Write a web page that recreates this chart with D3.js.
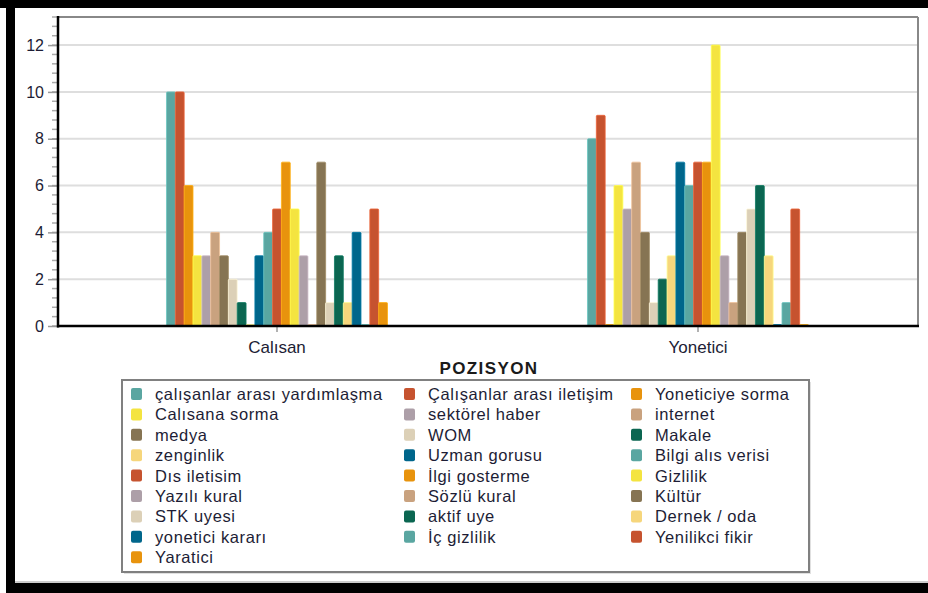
<!DOCTYPE html>
<html>
<head>
<meta charset="utf-8">
<script src="https://cdn.jsdelivr.net/npm/d3@7"></script>
<style>
  html, body { margin: 0; padding: 0; background: #fff; }
  svg { display: block; }
  text { font-family: "Liberation Sans", Arial, sans-serif; }
</style>
</head>
<body>
<svg id="chart" width="928" height="593"></svg>
<script>
// Categories on the x axis
const categories = ["Calısan", "Yonetici"];

// Series names (legend order)
const seriesNames = [
  "çalışanlar arası yardımlaşma", "Çalışanlar arası iletişim", "Yoneticiye sorma",
  "Calısana sorma", "sektörel haber", "internet",
  "medya", "WOM", "Makale",
  "zenginlik", "Uzman gorusu", "Bilgi alıs verisi",
  "Dıs iletisim", "İlgi gosterme", "Gizlilik",
  "Yazılı kural", "Sözlü kural", "Kültür",
  "STK uyesi", "aktif uye", "Dernek / oda",
  "yonetici kararı", "İç gizlilik", "Yenilikci fikir",
  "Yaratici"
];

// Counts per series, one array per category
const valuesCalisan  = [10, 10, 6, 3, 3, 4, 3, 2, 1, 0, 3, 4, 5, 7, 5, 3, 0, 7, 1, 3, 1, 4, 0, 5, 1];
const valuesYonetici = [8, 9, 0, 6, 5, 7, 4, 1, 2, 3, 7, 6, 7, 7, 12, 3, 1, 4, 5, 6, 3, 0, 1, 5, 0];

// Repeating palette of 11 colours
const palette = ["#5aa6a1", "#c6532f", "#e8930d", "#f4e440", "#ad9fa8", "#c9a27f",
                 "#867453", "#dcd0b7", "#0b6651", "#f6d67c", "#00668b"];

const yTicks = [0, 2, 4, 6, 8, 10, 12];
const axisTitle = "POZISYON";

const svg = d3.select("#chart");
const valuesByCat = { "Calısan": valuesCalisan, "Yonetici": valuesYonetici };
const color = (i) => palette[i % palette.length];

// Outer frame bands
svg.append("rect").attr("x", 0).attr("y", 0).attr("width", 928).attr("height", 8).attr("fill", "#000");
svg.append("rect").attr("x", 6).attr("y", 0).attr("width", 9).attr("height", 593).attr("fill", "#000");
svg.append("rect").attr("x", 6).attr("y", 583).attr("width", 922).attr("height", 10).attr("fill", "#000");
svg.append("line").attr("x1", 15).attr("x2", 928).attr("y1", 582).attr("y2", 582)
  .attr("stroke", "#999").attr("stroke-width", 1);

const plot = { left: 58, right: 918, top: 17, bottom: 326 };

const y = d3.scaleLinear().domain([0, 13.2]).range([plot.bottom, plot.top]);
const x0 = d3.scaleBand().domain(categories).range([66.5, 908.5]);
const groupW = x0.bandwidth() * 0.525;
const x1 = d3.scaleBand().domain(d3.range(seriesNames.length))
  .range([(x0.bandwidth() - groupW) / 2, (x0.bandwidth() + groupW) / 2]);

// Gridlines
svg.append("g").selectAll("line").data(yTicks.filter(t => t > 0)).join("line")
  .attr("x1", plot.left).attr("x2", plot.right)
  .attr("y1", d => y(d)).attr("y2", d => y(d))
  .attr("stroke", "#dedede").attr("stroke-width", 2);

// Minor ticks on the y axis
const minor = d3.range(0, 13.21, 0.4).map(v => +v.toFixed(1));
svg.append("g").selectAll("line").data(minor).join("line")
  .attr("x1", plot.left - 6).attr("x2", plot.left)
  .attr("y1", d => y(d)).attr("y2", d => y(d))
  .attr("stroke", "#aaa").attr("stroke-width", 1.5);

// Y axis with major ticks
const yAxis = d3.axisLeft(y).tickValues(yTicks).tickSize(10).tickPadding(4).tickFormat(d3.format("d"));
const gy = svg.append("g").attr("transform", `translate(${plot.left},0)`).call(yAxis);
gy.select(".domain").remove();
gy.selectAll(".tick line").attr("stroke", "#999").attr("stroke-width", 1.5);
gy.selectAll(".tick text").attr("font-size", 16).attr("fill", "#1d1d35")
  .attr("font-family", "'Liberation Sans', Arial, sans-serif");

// Bars
const groups = svg.append("g").selectAll("g").data(categories).join("g")
  .attr("transform", d => `translate(${x0(d)},0)`);
groups.selectAll("rect")
  .data(c => valuesByCat[c].map((v, i) => ({ v, i })))
  .join("rect")
  .attr("x", d => x1(d.i))
  .attr("width", x1.bandwidth())
  .attr("y", d => Math.min(y(d.v), plot.bottom - 1.5))
  .attr("height", d => Math.max(plot.bottom - y(d.v), 1.5))
  .attr("rx", 1)
  .attr("fill", d => color(d.i))
  .attr("stroke", d => d3.color(color(d.i)).brighter(0.5))
  .attr("stroke-width", 0.8);

// Plot frame: grey top/right, black left/bottom
svg.append("line").attr("x1", plot.left).attr("x2", plot.right).attr("y1", plot.top).attr("y2", plot.top)
  .attr("stroke", "#888").attr("stroke-width", 2);
svg.append("line").attr("x1", plot.right).attr("x2", plot.right).attr("y1", plot.top).attr("y2", plot.bottom)
  .attr("stroke", "#888").attr("stroke-width", 2);
svg.append("line").attr("x1", plot.left).attr("x2", plot.left).attr("y1", plot.top - 1).attr("y2", plot.bottom + 1.5)
  .attr("stroke", "#000").attr("stroke-width", 2.5);

// X axis
const xAxis = d3.axisBottom(x0).tickSize(6).tickPadding(9);
const gx = svg.append("g").attr("transform", `translate(0,${plot.bottom})`).call(xAxis);
gx.select(".domain").remove();
gx.selectAll(".tick line").attr("stroke", "#999").attr("stroke-width", 1.5);
gx.selectAll(".tick text").attr("font-size", 17).attr("fill", "#1d1d35")
  .attr("font-family", "'Liberation Sans', Arial, sans-serif");
svg.append("line").attr("x1", plot.left - 1).attr("x2", plot.right + 1).attr("y1", plot.bottom).attr("y2", plot.bottom)
  .attr("stroke", "#000").attr("stroke-width", 2.5);

// Axis title
svg.append("text").attr("x", 489).attr("y", 374).attr("text-anchor", "middle")
  .attr("font-size", 17).attr("font-weight", "bold").attr("letter-spacing", 1.4)
  .attr("fill", "#1a1a1a").text(axisTitle);

// Legend
const legend = { x: 122, y: 380, w: 687, h: 192 };
svg.append("rect").attr("x", legend.x + 2).attr("y", legend.y + 2).attr("width", legend.w).attr("height", legend.h)
  .attr("fill", "#ccc").attr("opacity", 0.6);
svg.append("rect").attr("x", legend.x).attr("y", legend.y).attr("width", legend.w).attr("height", legend.h)
  .attr("fill", "#fff").attr("stroke", "#808080").attr("stroke-width", 2);

const colX = [131, 404, 631];
const rowY0 = 394, rowStep = 20.4;
const items = svg.append("g").selectAll("g").data(seriesNames).join("g")
  .attr("transform", (d, i) => `translate(${colX[i % 3]},${rowY0 + Math.floor(i / 3) * rowStep})`);
items.append("rect").attr("x", 0).attr("y", -6).attr("width", 11).attr("height", 12).attr("rx", 2)
  .attr("fill", (d, i) => color(i));
items.append("text").attr("x", 24).attr("y", 6).attr("font-size", 16.5).attr("letter-spacing", 0.6)
  .attr("fill", "#1d1d35").text(d => d);
</script>
</body>
</html>
